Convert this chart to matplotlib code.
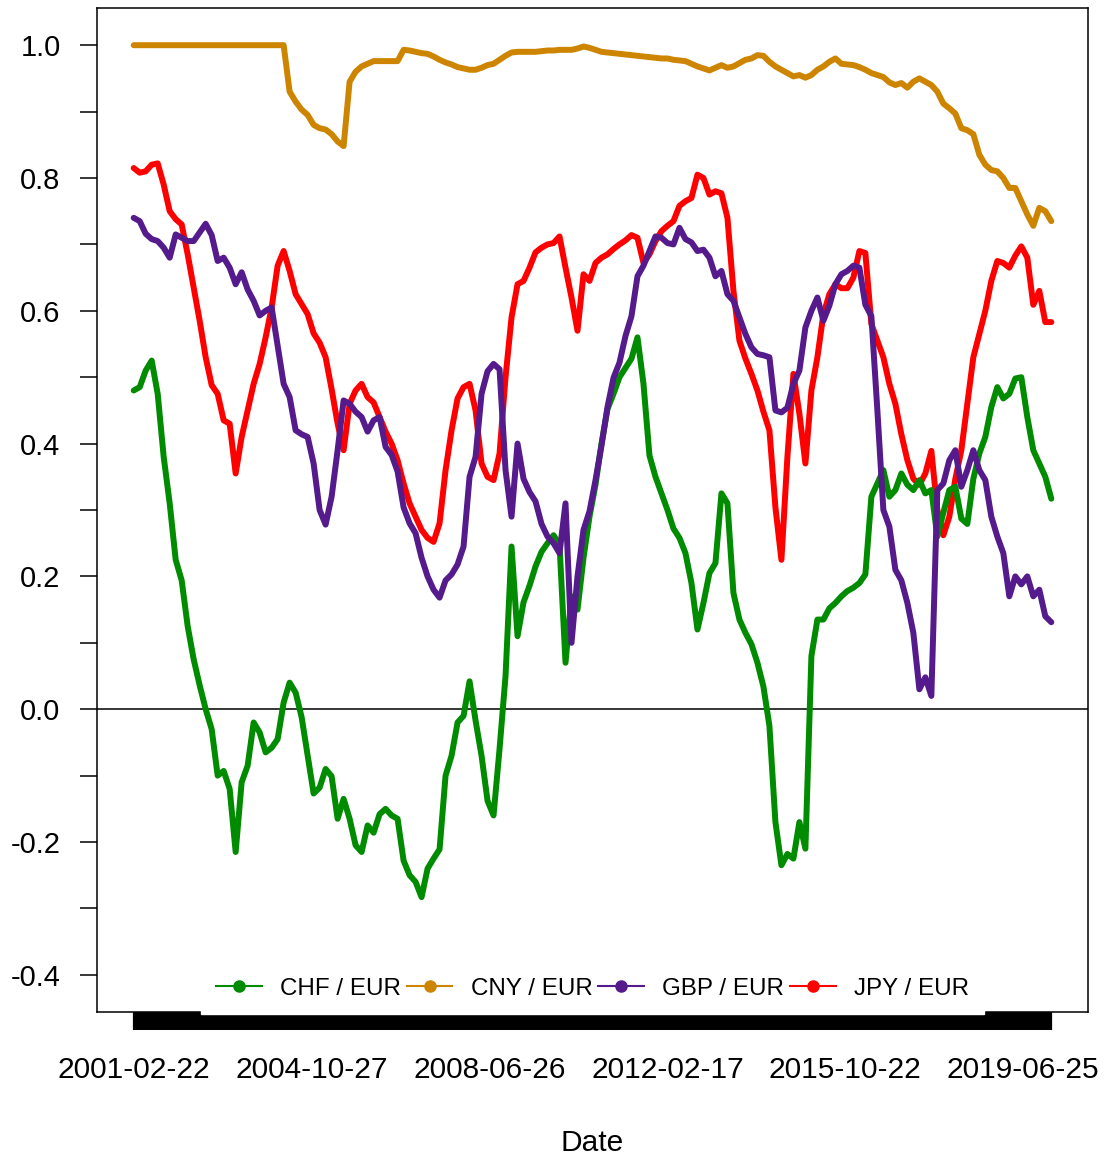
import numpy as np
import matplotlib.pyplot as plt
from matplotlib.lines import Line2D

plt.rcParams['font.family'] = ['Liberation Sans', 'DejaVu Sans']

# daily observations, x axis is the observation index
n_obs = 4849
label_step = 940
date_labels = ['2001-02-22', '2004-10-27', '2008-06-26',
               '2012-02-17', '2015-10-22', '2019-06-25']

chf = [0.48, 0.485, 0.51, 0.525, 0.475, 0.38, 0.31, 0.225, 0.194, 0.125,
       0.075, 0.036, 0.0, -0.03, -0.1, -0.093, -0.12, -0.215, -0.11, -0.085,
       -0.02, -0.035, -0.065, -0.058, -0.045, 0.01, 0.04, 0.025, -0.012, -0.07,
       -0.127, -0.118, -0.09, -0.101, -0.165, -0.135, -0.165, -0.205, -0.215, -0.175,
       -0.186, -0.158, -0.15, -0.16, -0.165, -0.228, -0.25, -0.26, -0.283, -0.24,
       -0.225, -0.211, -0.1, -0.07, -0.02, -0.01, 0.042, -0.017, -0.07, -0.138,
       -0.16, -0.06, 0.05, 0.245, 0.11, 0.161, 0.186, 0.215, 0.237, 0.25,
       0.262, 0.248, 0.07, 0.17, 0.15, 0.228, 0.29, 0.338, 0.4, 0.452,
       0.475, 0.5, 0.514, 0.528, 0.56, 0.49, 0.382, 0.35, 0.325, 0.3,
       0.272, 0.258, 0.235, 0.19, 0.12, 0.16, 0.205, 0.22, 0.325, 0.31,
       0.175, 0.135, 0.115, 0.098, 0.07, 0.034, -0.025, -0.17, -0.235, -0.218,
       -0.225, -0.17, -0.21, 0.08, 0.135, 0.135, 0.152, 0.16, 0.17, 0.178,
       0.183, 0.19, 0.203, 0.32, 0.34, 0.36, 0.32, 0.33, 0.355, 0.338,
       0.33, 0.345, 0.325, 0.33, 0.26, 0.296, 0.33, 0.335, 0.287, 0.279,
       0.347, 0.385, 0.41, 0.455, 0.485, 0.468, 0.475, 0.498, 0.5, 0.44,
       0.39, 0.37, 0.35, 0.317]

cny = [1.0] * 26 + [
       0.93, 0.915, 0.903, 0.895, 0.88, 0.875, 0.873, 0.866, 0.855, 0.848,
       0.945, 0.96, 0.968, 0.972, 0.976, 0.976, 0.976, 0.976, 0.976, 0.993,
       0.992, 0.99, 0.988, 0.987, 0.983, 0.978, 0.974, 0.971, 0.967, 0.965,
       0.963, 0.963, 0.966, 0.97, 0.972, 0.978, 0.984, 0.989, 0.99, 0.99,
       0.99, 0.99, 0.991, 0.992, 0.992, 0.993, 0.993, 0.993, 0.995, 0.998,
       0.996, 0.993, 0.99, 0.989, 0.988, 0.987, 0.986, 0.985, 0.984, 0.983,
       0.982, 0.981, 0.98, 0.98, 0.978, 0.977, 0.976, 0.972, 0.968, 0.965,
       0.962, 0.966, 0.97, 0.966, 0.968, 0.973, 0.978, 0.98, 0.985, 0.984,
       0.975, 0.968, 0.963, 0.958, 0.953, 0.955, 0.951, 0.955, 0.963, 0.968,
       0.975, 0.98, 0.972, 0.971, 0.97, 0.967, 0.963, 0.958, 0.955, 0.952,
       0.944, 0.94, 0.943, 0.936, 0.945, 0.95, 0.945, 0.94, 0.93, 0.912,
       0.905, 0.897, 0.875, 0.872, 0.866, 0.835, 0.82, 0.812, 0.81, 0.8,
       0.785, 0.785, 0.765, 0.745, 0.728, 0.755, 0.75, 0.735]

gbp = [0.74, 0.735, 0.716, 0.708, 0.705, 0.695, 0.68, 0.715, 0.71, 0.705,
       0.705, 0.718, 0.731, 0.714, 0.675, 0.68, 0.665, 0.64, 0.658, 0.632,
       0.615, 0.593, 0.6, 0.605, 0.548, 0.49, 0.47, 0.42, 0.414, 0.41,
       0.37, 0.3, 0.278, 0.32, 0.39, 0.465, 0.46, 0.448, 0.44, 0.418,
       0.435, 0.44, 0.395, 0.383, 0.358, 0.304, 0.28, 0.265, 0.228, 0.2,
       0.18, 0.168, 0.194, 0.203, 0.218, 0.245, 0.35, 0.38, 0.475, 0.509,
       0.52, 0.512, 0.36, 0.29, 0.4, 0.347, 0.327, 0.313, 0.279, 0.26,
       0.25, 0.235, 0.31, 0.1, 0.2, 0.27, 0.298, 0.345, 0.397, 0.455,
       0.499, 0.522, 0.562, 0.592, 0.652, 0.668, 0.69, 0.712, 0.71, 0.702,
       0.7, 0.725, 0.708, 0.703, 0.69, 0.692, 0.68, 0.652, 0.66, 0.625,
       0.615, 0.59, 0.565, 0.545, 0.535, 0.533, 0.53, 0.45, 0.447, 0.454,
       0.49, 0.51, 0.575, 0.6, 0.62, 0.585, 0.608, 0.64, 0.655, 0.66,
       0.668, 0.665, 0.609, 0.592, 0.45, 0.3, 0.275, 0.21, 0.194, 0.16,
       0.115, 0.03, 0.048, 0.02, 0.33, 0.34, 0.375, 0.39, 0.335, 0.36,
       0.39, 0.36, 0.345, 0.29, 0.26, 0.235, 0.17, 0.2, 0.188, 0.2,
       0.17, 0.18, 0.14, 0.131]

jpy = [0.815, 0.808, 0.81, 0.82, 0.822, 0.79, 0.75, 0.738, 0.73, 0.685,
       0.635, 0.585, 0.53, 0.488, 0.475, 0.435, 0.43, 0.355, 0.41, 0.45,
       0.49, 0.52, 0.56, 0.605, 0.668, 0.69, 0.66, 0.625, 0.61, 0.595,
       0.566, 0.552, 0.53, 0.482, 0.43, 0.39, 0.46, 0.48, 0.49, 0.47,
       0.462, 0.44, 0.418, 0.4, 0.375, 0.34, 0.31, 0.29, 0.27, 0.258,
       0.252, 0.28, 0.36, 0.42, 0.468, 0.485, 0.49, 0.45, 0.37, 0.35,
       0.345, 0.385, 0.5, 0.59, 0.64, 0.645, 0.665, 0.688, 0.695, 0.7,
       0.702, 0.712, 0.665, 0.62, 0.57, 0.655, 0.645, 0.672, 0.68, 0.685,
       0.693, 0.7, 0.706, 0.714, 0.71, 0.672, 0.685, 0.705, 0.72, 0.728,
       0.735, 0.758, 0.765, 0.77, 0.805, 0.8, 0.775, 0.78, 0.777, 0.74,
       0.63, 0.555, 0.528, 0.505, 0.48, 0.448, 0.42, 0.304, 0.225, 0.38,
       0.505, 0.445, 0.37, 0.48, 0.53, 0.595, 0.625, 0.64, 0.634, 0.634,
       0.65, 0.69, 0.687, 0.58, 0.555, 0.53, 0.49, 0.46, 0.414, 0.375,
       0.347, 0.338, 0.355, 0.389, 0.3, 0.262, 0.29, 0.347, 0.39, 0.46,
       0.53, 0.565, 0.6, 0.645, 0.675, 0.672, 0.665, 0.683, 0.697, 0.68,
       0.609, 0.63, 0.583, 0.583]

names = ['CHF / EUR', 'CNY / EUR', 'GBP / EUR', 'JPY / EUR']
colors = ['#008B00', '#CD8500', '#551A8B', '#FF0000']
values = [chf, cny, gbp, jpy]
layer = [2, 3, 4, 1]

fig = plt.figure(figsize=(11.1, 11.58), dpi=100)
ax = fig.add_axes([97 / 1110, 1 - 1012 / 1158, 991 / 1110, 1004 / 1158])

for name, vals, col, z in zip(names, values, colors, layer):
    x = np.linspace(0, n_obs - 1, len(vals))
    ax.plot(x, vals, color=col, lw=4.3, solid_joinstyle='round',
            solid_capstyle='round', zorder=z)

ax.axhline(0, color='black', lw=1.1, zorder=0.5)

ax.set_xlim(-0.04 * (n_obs - 1), 1.04 * (n_obs - 1))
ax.set_ylim(-0.456, 1.056)

# y axis: ticks every 0.1, labels every 0.2
yt = np.arange(-0.4, 1.01, 0.2)
ax.set_yticks(yt)
ax.set_yticklabels(['%.1f' % v for v in yt])
ax.set_yticks(np.arange(-0.3, 0.91, 0.2), minor=True)
ax.tick_params(axis='y', which='both', length=12.2, width=1.1,
               labelsize=21, pad=14)

# x axis: one tick per observation gives the solid bar
ax.set_xticks(np.arange(len(date_labels)) * label_step)
ax.set_xticklabels(date_labels)
ax.set_xticks(np.arange(0, n_obs, 6), minor=True)
ax.tick_params(axis='x', which='both', length=13, width=1.6,
               labelsize=21.5, pad=19)

for s in ax.spines.values():
    s.set_linewidth(1.1)

ax.set_xlabel('Date', fontsize=21.5, labelpad=32)

handles = [Line2D([], [], color=c, lw=1.5, marker='o', markersize=8)
           for c in colors]
ax.legend(handles, names, loc='lower center', bbox_to_anchor=(0.5, -0.002),
          ncol=4, fontsize=17.4, frameon=True, fancybox=False,
          edgecolor='white', facecolor='white', framealpha=1,
          handlelength=1.9, handletextpad=0.75, columnspacing=0.25,
          borderpad=0.6, borderaxespad=0)

fig.savefig('out.png', dpi=100)
